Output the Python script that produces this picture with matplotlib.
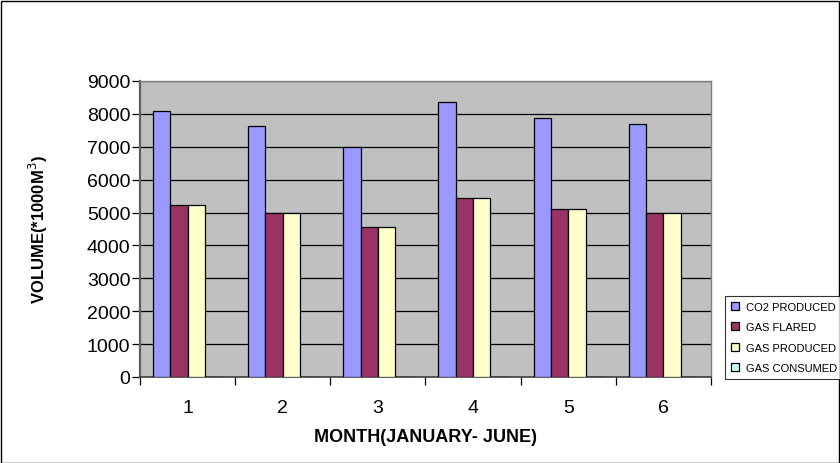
import matplotlib
matplotlib.use("Agg")
import matplotlib.pyplot as plt
from matplotlib.patches import Rectangle
import numpy as np

plt.rcParams['font.family'] = ['Liberation Sans', 'DejaVu Sans']

months = ["1", "2", "3", "4", "5", "6"]
co2_produced = [8080, 7630, 6990, 8360, 7860, 7680]
gas_flared = [5240, 4990, 4550, 5430, 5120, 4990]
gas_produced = [5240, 4990, 4550, 5430, 5120, 4990]
gas_consumed = [0, 0, 0, 0, 0, 0]

series = [
    ("CO2 PRODUCED", co2_produced, "#9999FF"),
    ("GAS FLARED", gas_flared, "#993366"),
    ("GAS PRODUCED", gas_produced, "#FFFFCC"),
    ("GAS CONSUMED", gas_consumed, "#CCFFFF"),
]

W, H = 840, 464
fig = plt.figure(figsize=(W / 100, H / 100), dpi=100)
fig.patches.append(Rectangle((0.5 / W, 0.5 / H), 1 - 2 / W, 1 - 2 / H,
                             transform=fig.transFigure, fill=False,
                             edgecolor="black", linewidth=1))

ax = fig.add_axes([140 / W, 1 - 378 / H, (711 - 140) / W, (378 - 82) / H])
ax.set_facecolor("#C0C0C0")

n = len(series)
x = np.arange(len(months))
bw = 1.0 / (n + 1.5)
for i, (name, vals, col) in enumerate(series):
    offs = (i - (n - 1) / 2) * bw
    ax.bar(x + offs, vals, width=bw, color=col, edgecolor="black",
           linewidth=0.9, label=name, zorder=3)

ax.set_xlim(-0.5, len(months) - 0.5)
ax.set_ylim(0, 9000)
ax.set_yticks(np.arange(0, 9001, 1000))
ax.yaxis.grid(True, color="black", linewidth=0.9, zorder=1)
ax.set_axisbelow(True)

ax.set_xticks(x)
ax.set_xticklabels(months, fontsize=14)
ax.set_xticks(np.arange(-0.5, len(months), 1.0), minor=True)
ax.tick_params(axis="x", which="major", length=0, pad=16)
ax.tick_params(axis="x", which="minor", length=6, width=0.9, direction="out",
               color="black")
ax.tick_params(axis="y", length=6, width=0.9, direction="out", labelsize=14,
               pad=1, color="black")

for s in ["top", "right"]:
    ax.spines[s].set_color("#808080")
    ax.spines[s].set_linewidth(1)
ax.spines["left"].set_color("#606060")
ax.spines["left"].set_linewidth(1.6)
ax.spines["bottom"].set_color("#404040")
ax.spines["bottom"].set_linewidth(1.2)

ax.set_xlabel("MONTH(JANUARY- JUNE)", fontsize=13, fontweight="bold")
ax.xaxis.set_label_coords(0.5, -(437 - 378) / 296, transform=ax.transAxes)
ax.xaxis.label.set_verticalalignment("center")
ax.set_ylabel("VOLUME(*1000M$^3$)", fontsize=12, fontweight="bold")
ax.yaxis.set_label_coords(-(140 - 38) / 571, 0.5, transform=ax.transAxes)
ax.yaxis.label.set_verticalalignment("center")

leg = fig.legend(loc="upper left", bbox_to_anchor=(725 / W, 1 - 297 / H),
                 fontsize=8, frameon=True, fancybox=False, edgecolor="black",
                 handlelength=0.8, handleheight=0.7, handletextpad=0.6,
                 labelspacing=0.95, borderpad=0.5, borderaxespad=0)
leg.get_frame().set_linewidth(0.8)

fig.savefig("out.png", dpi=100)
